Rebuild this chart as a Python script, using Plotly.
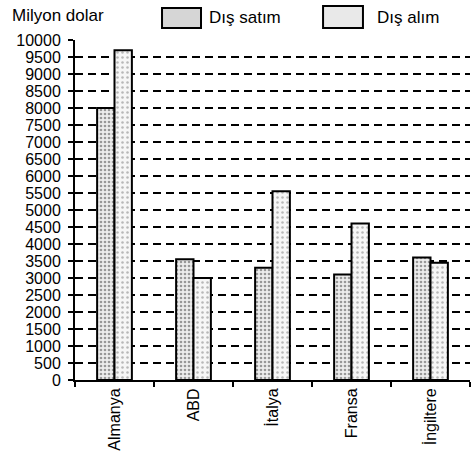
import plotly.graph_objects as go

categories = ["Almanya", "ABD", "İtalya", "Fransa", "İngiltere"]
dis_satim = [8000, 3550, 3300, 3100, 3600]
dis_alim = [9700, 3000, 5550, 4600, 3450]
series_names = ["Dış satım", "Dış alım"]
y_ticks = list(range(0, 10001, 500))

FONT = "Liberation Sans, Arial, sans-serif"
fills = ["#d6d6d6", "#e9e9e9"]

fig = go.Figure()
fig.add_trace(go.Bar(
    name=series_names[0], x=categories, y=dis_satim, showlegend=False,
    marker=dict(color="#e8e8e8", line=dict(color="black", width=2),
                pattern=dict(shape=".", fgcolor="#444", bgcolor="#ededed",
                             size=4, solidity=0.35)),
))
fig.add_trace(go.Bar(
    name=series_names[1], x=categories, y=dis_alim, showlegend=False,
    marker=dict(color="#f4f4f4", line=dict(color="black", width=2),
                pattern=dict(shape=".", fgcolor="#777", bgcolor="#f6f6f6",
                             size=5, solidity=0.2)),
))

# custom legend (large swatch boxes as in the original)
legend_boxes = [(0.2203, 0.319, 1.0353, 1.094), (0.628, 0.729, 1.0353, 1.10)]
legend_text_x = [0.334, 0.7595]
shapes = []
annotations = [dict(text="Milyon dolar", xref="paper", yref="paper",
                    x=-0.165, y=1.105, xanchor="left", yanchor="top",
                    showarrow=False, font=dict(size=17, family=FONT))]
for name, box, tx, fc in zip(series_names, legend_boxes, legend_text_x, fills):
    shapes.append(dict(type="rect", xref="paper", yref="paper",
                       x0=box[0], x1=box[1], y0=box[2], y1=box[3],
                       fillcolor=fc, line=dict(color="black", width=2)))
    annotations.append(dict(text=name, xref="paper", yref="paper",
                            x=tx, y=1.0676, xanchor="left", yanchor="middle",
                            showarrow=False, font=dict(size=17, family=FONT)))

fig.update_layout(
    width=473, height=451,
    margin=dict(l=75, r=3, t=40, b=71, autoexpand=False),
    paper_bgcolor="white", plot_bgcolor="white",
    barmode="group", bargap=0.56, bargroupgap=0,
    font=dict(family=FONT, size=16, color="black"),
    showlegend=False,
    shapes=shapes,
    annotations=annotations,
)
fig.update_yaxes(
    range=[0, 10000], tickvals=y_ticks, ticktext=[str(v) for v in y_ticks],
    showline=True, linecolor="black", linewidth=2,
    ticks="outside", ticklen=5, tickwidth=2, tickcolor="black",
    ticklabelstandoff=4,
    showgrid=True, gridcolor="black", gridwidth=1.5, griddash="8px,5px",
    zeroline=False, tickfont=dict(size=16, family=FONT), automargin=False,
)
fig.update_xaxes(
    showline=True, linecolor="black", linewidth=2,
    ticks="outside", tickson="boundaries", ticklen=5, tickwidth=2, tickcolor="black",
    tickangle=-90, tickfont=dict(size=16, family=FONT), showgrid=False,
    automargin=False,
)
fig.write_html("out.html", config={"displayModeBar": False},
               post_script="document.body.style.margin='0';")
